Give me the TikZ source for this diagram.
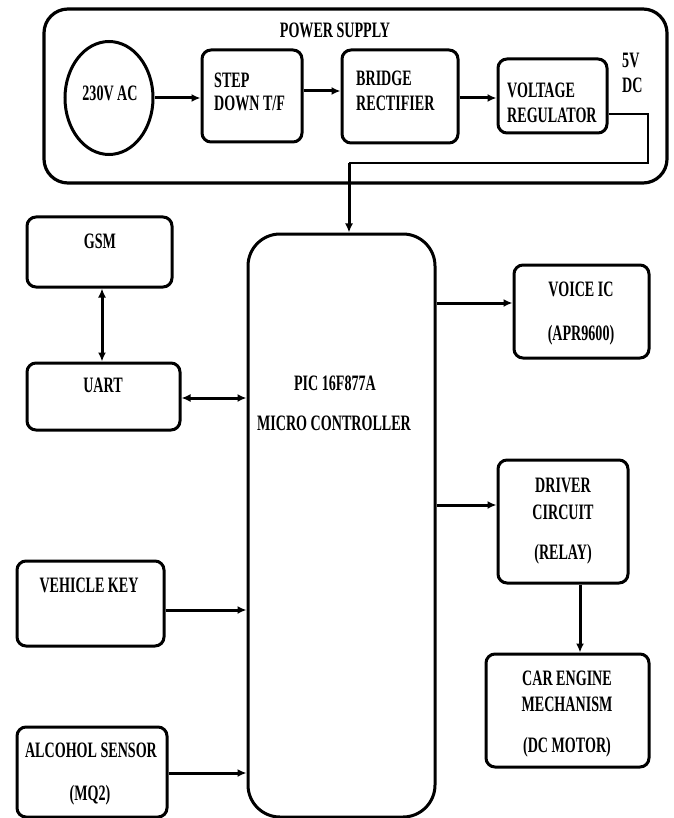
\documentclass[tikz,border=0pt]{standalone}
\usepackage{fontspec}
\setmainfont{Liberation Serif}[FakeStretch=0.64]
\usetikzlibrary{arrows.meta,fit,shapes.geometric}
\begin{document}
\begin{tikzpicture}[x=1pt,y=-1pt,
  box/.style={draw, line width=3pt, rounded corners=9pt, inner sep=0pt},
  bigbox/.style={draw, line width=3pt, inner sep=0pt},
  txt/.style={inner sep=0pt, text height=14.5pt, text depth=0pt, font=\bfseries\fontsize{22}{24}\selectfont},
  arr/.style={line width=3pt, -{Latex[length=9pt,width=8pt]}},
  darr/.style={line width=3pt, {Latex[length=9pt,width=8pt]}-{Latex[length=9pt,width=8pt]}},
  thinline/.style={line width=2.2pt}]
\useasboundingbox (0,0) rectangle (673,818);

% power supply block
\node[bigbox, rounded corners=24pt, line width=3.2pt, fit={(44,9)(667,183)}] (ps) {};
\node[txt] (pstitle) at (335,30) {POWER SUPPLY};
\node[draw, ellipse, line width=3pt, minimum width=88pt, minimum height=113pt, inner sep=0pt] (ac) at (109,98) {};
\node[txt] (actxt) at (110,93) {230V AC};
\node[box, fit={(202,50)(302,142)}] (sd) {};
\node[txt, anchor=west] (sd1) at (214,80) {STEP};
\node[txt, anchor=west] (sd2) at (214,103) {DOWN T/F};
\node[box, fit={(342,50)(458,143)}] (br) {};
\node[txt, anchor=west] (br1) at (356,78) {BRIDGE};
\node[txt, anchor=west] (br2) at (356,103) {RECTIFIER};
\node[box, fit={(498,59)(607,133)}] (reg) {};
\node[txt, anchor=west] (reg1) at (507,90) {VOLTAGE};
\node[txt, anchor=west] (reg2) at (507,115) {REGULATOR};
\node[txt, anchor=west] (dc1) at (622,60) {5V};
\node[txt, anchor=west] (dc2) at (622,85) {DC};

% microcontroller
\node[bigbox, rounded corners=32pt, fit={(248,234)(435,817)}] (mc) {};
\node[txt] (mc1) at (335,383) {PIC 16F877A};
\node[txt] (mc2) at (334,423) {MICRO CONTROLLER};

% left side
\node[box, fit={(27,217)(172,287)}] (gsm) {};
\node[txt] (gsmt) at (100,241) {GSM};
\node[box, fit={(27,363)(180,430)}] (uart) {};
\node[txt] (uartt) at (103,385) {UART};
\node[box, fit={(17,561)(164,646)}] (vk) {};
\node[txt] (vkt) at (89,585) {VEHICLE KEY};
\node[box, fit={(17,727)(167,817)}] (as) {};
\node[txt] (as1) at (91,750) {ALCOHOL SENSOR};
\node[txt] (as2) at (90,793) {(MQ2)};

% right side
\node[box, fit={(514,265)(649,358)}] (voice) {};
\node[txt] (v1) at (581,289) {VOICE IC};
\node[txt] (v2) at (581,333) {(APR9600)};
\node[box, fit={(498,460)(628,583)}] (drv) {};
\node[txt] (d1) at (563,485) {DRIVER};
\node[txt] (d2) at (563,512) {CIRCUIT};
\node[txt] (d3) at (563,552) {(RELAY)};
\node[box, fit={(486,654)(649,767)}] (car) {};
\node[txt] (c1t) at (567,678) {CAR ENGINE};
\node[txt] (c2t) at (567,704) {MECHANISM};
\node[txt] (c3t) at (567,745) {(DC MOTOR)};

% helper levels
\coordinate (y91) at (0,91);
\coordinate (y98) at (0,98);
\coordinate (y114) at (0,114);
\coordinate (y303) at (0,303);
\coordinate (y398) at (0,398);
\coordinate (y505) at (0,505);
\coordinate (y610) at (0,610);
\coordinate (y773) at (0,773);
\coordinate (x102) at (102,0);
\coordinate (x580) at (580,0);
\coordinate (p1) at (648,114);
\coordinate (p2) at (648,163);
\coordinate (p3) at (349,163);

% connectors
\draw[arr] (ac.east |- y98) -- (sd.west |- y98);
\draw[arr] (sd.east |- y91) -- (br.west |- y91);
\draw[arr] (br.east |- y98) -- (reg.west |- y98);
\draw[thinline] (reg.east |- y114) -- (p1) -- (p2) -- (p3);
\draw[arr] (p3) -- (p3 |- mc.north);
\draw[darr] (gsm.south -| x102) -- (uart.north -| x102);
\draw[darr] (uart.east |- y398) -- (mc.west |- y398);
\draw[arr] (vk.east |- y610) -- (mc.west |- y610);
\draw[arr] (as.east |- y773) -- (mc.west |- y773);
\draw[arr] (mc.east |- y303) -- (voice.west |- y303);
\draw[arr] (mc.east |- y505) -- (drv.west |- y505);
\draw[arr] (drv.south -| x580) -- (car.north -| x580);
\end{tikzpicture}
\end{document}
